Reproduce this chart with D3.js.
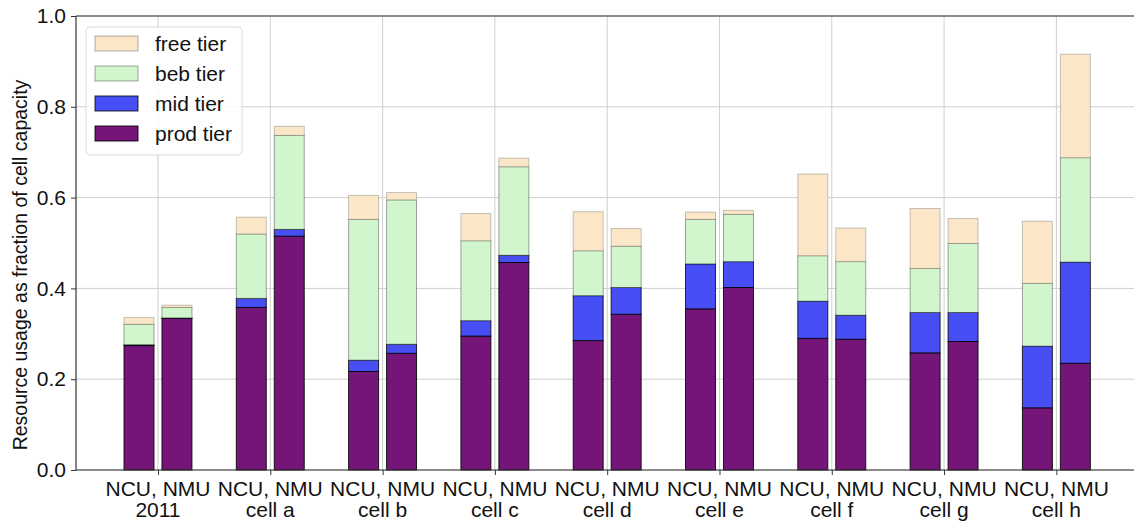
<!DOCTYPE html>
<html>
<head>
<meta charset="utf-8">
<script src="https://cdn.jsdelivr.net/npm/d3@7"></script>
<style>
    body { margin: 0; background: #fff; }
    text { font-family: "Liberation Sans", Arial, sans-serif; fill: #111; }
</style>
</head>
<body>
<div id="wrapper"></div>
<script>
// categories and the two bars in each
const cells = ["2011", "cell a", "cell b", "cell c", "cell d", "cell e", "cell f", "cell g", "cell h"];
const kinds = ["NCU", "NMU"];

// tier usage (fraction of cell capacity), one value per cell
const prodNCU = [0.274, 0.358, 0.217, 0.295, 0.285, 0.355, 0.290, 0.258, 0.137];
const midNCU  = [0.002, 0.020, 0.025, 0.034, 0.099, 0.099, 0.082, 0.089, 0.136];
const bebNCU  = [0.045, 0.142, 0.310, 0.176, 0.099, 0.098, 0.100, 0.097, 0.138];
const freeNCU = [0.015, 0.037, 0.053, 0.060, 0.086, 0.016, 0.180, 0.132, 0.137];

const prodNMU = [0.334, 0.515, 0.257, 0.457, 0.343, 0.402, 0.288, 0.283, 0.235];
const midNMU  = [0.001, 0.015, 0.020, 0.016, 0.059, 0.057, 0.053, 0.064, 0.223];
const bebNMU  = [0.023, 0.207, 0.318, 0.195, 0.091, 0.104, 0.118, 0.152, 0.230];
const freeNMU = [0.005, 0.020, 0.016, 0.019, 0.039, 0.009, 0.074, 0.055, 0.228];

const yTicks = [0, 0.2, 0.4, 0.6, 0.8, 1.0];

const tiers = [
    { key: "prod", label: "prod tier", color: "#761578", edge: 0.85 },
    { key: "mid",  label: "mid tier",  color: "#474ff4", edge: 0.8 },
    { key: "beb",  label: "beb tier",  color: "#d1f5cd", edge: 0.35 },
    { key: "free", label: "free tier", color: "#fbe7c8", edge: 0.22 },
];

const dimensions = {
    width: 1134,
    height: 523,
    margin: { top: 16, left: 76, bottom: 53 },
}

const rows = [];
cells.forEach((c, i) => {
    rows.push({ cell: i, side: -1, prod: prodNCU[i], mid: midNCU[i], beb: bebNCU[i], free: freeNCU[i] });
    rows.push({ cell: i, side: 1, prod: prodNMU[i], mid: midNMU[i], beb: bebNMU[i], free: freeNMU[i] });
});

const stacked = d3.stack().keys(tiers.map(t => t.key))(rows);

const wrapper = d3.select("#wrapper")
    .append("svg")
    .attr("width", dimensions.width)
    .attr("height", dimensions.height);

const xScale = d3.scaleLinear()
    .domain([-0.73, 8.73])
    .range([dimensions.margin.left, dimensions.margin.left + 9.46 * 112.3]);

const yScale = d3.scaleLinear()
    .domain([0, 1])
    .range([dimensions.height - dimensions.margin.bottom, dimensions.margin.top]);

const x0 = xScale.range()[0], x1 = xScale.range()[1];
const barW = xScale(0.267) - xScale(0);
const offset = 0.169;

// grid
wrapper.append("g")
    .selectAll("line.hgrid")
    .data(yTicks)
    .join("line")
    .attr("x1", x0).attr("x2", x1)
    .attr("y1", d => yScale(d)).attr("y2", d => yScale(d))
    .attr("stroke", "#cfcfcf").attr("stroke-width", 1);

wrapper.append("g")
    .selectAll("line.vgrid")
    .data(cells.map((c, i) => i))
    .join("line")
    .attr("x1", d => xScale(d)).attr("x2", d => xScale(d))
    .attr("y1", yScale(0)).attr("y2", yScale(1))
    .attr("stroke", "#cfcfcf").attr("stroke-width", 1);

// bars
tiers.forEach((t, k) => {
    wrapper.append("g")
        .selectAll("rect")
        .data(stacked[k])
        .join("rect")
        .attr("x", d => xScale(d.data.cell + d.data.side * offset) - barW / 2)
        .attr("y", d => yScale(d[1]))
        .attr("width", barW)
        .attr("height", d => yScale(d[0]) - yScale(d[1]))
        .attr("fill", t.color)
        .attr("stroke", "#000")
        .attr("stroke-opacity", t.edge)
        .attr("stroke-width", 1);
});

// axes
const yAxis = wrapper.append("g")
    .attr("transform", `translate(${x0},0)`)
    .call(d3.axisLeft(yScale).tickValues(yTicks).tickFormat(d3.format(".1f")).tickSize(5).tickPadding(5));
yAxis.select(".domain").remove();
yAxis.selectAll("text").style("font-size", "21px");
yAxis.selectAll("line").attr("stroke", "#333");

const xAxis = wrapper.append("g")
    .attr("transform", `translate(0,${yScale(0)})`)
    .call(d3.axisBottom(xScale).tickValues(cells.map((c, i) => i)).tickSize(5).tickFormat(""));
xAxis.select(".domain").remove();
xAxis.selectAll("line").attr("stroke", "#333");

const labels = wrapper.append("g")
    .selectAll("text")
    .data(cells)
    .join("text")
    .attr("x", (d, i) => xScale(i))
    .attr("text-anchor", "middle")
    .style("font-size", "21px");
labels.append("tspan").attr("x", (d, i) => xScale(i)).attr("y", 496).text(kinds.join(", "));
labels.append("tspan").attr("x", (d, i) => xScale(i)).attr("y", 517).text(d => d);

// spines
wrapper.append("line")
    .attr("x1", x0).attr("x2", x0)
    .attr("y1", yScale(0)).attr("y2", yScale(1))
    .attr("stroke", "#333").attr("stroke-width", 1.2);
wrapper.append("line")
    .attr("x1", x0).attr("x2", x1)
    .attr("y1", yScale(0)).attr("y2", yScale(0))
    .attr("stroke", "#333").attr("stroke-width", 1.2);
wrapper.append("line")
    .attr("x1", x0).attr("x2", x1)
    .attr("y1", yScale(1)).attr("y2", yScale(1))
    .attr("stroke", "#333").attr("stroke-width", 1.2);

// y label
wrapper.append("text")
    .attr("transform", `translate(27,${(yScale(0) + yScale(1)) / 2 + 22}) rotate(-90)`)
    .attr("text-anchor", "middle")
    .style("font-size", "19.5px")
    .text("Resource usage as fraction of cell capacity");

// legend
const legend = wrapper.append("g").attr("transform", "translate(86,27)");
legend.append("rect")
    .attr("width", 156).attr("height", 128)
    .attr("rx", 4)
    .attr("fill", "#fff").attr("fill-opacity", 0.85)
    .attr("stroke", "#dcdcdc");

const legendItems = legend.selectAll("g.item")
    .data(tiers.slice().reverse())
    .join("g")
    .attr("transform", (d, i) => `translate(9,${17 + i * 30})`);
legendItems.append("rect")
    .attr("y", -8).attr("width", 43).attr("height", 15)
    .attr("fill", d => d.color)
    .attr("stroke", "#000").attr("stroke-opacity", d => Math.max(d.edge, 0.3));
legendItems.append("text")
    .attr("x", 60).attr("y", 7)
    .style("font-size", "21px")
    .text(d => d.label);
</script>
</body>
</html>
